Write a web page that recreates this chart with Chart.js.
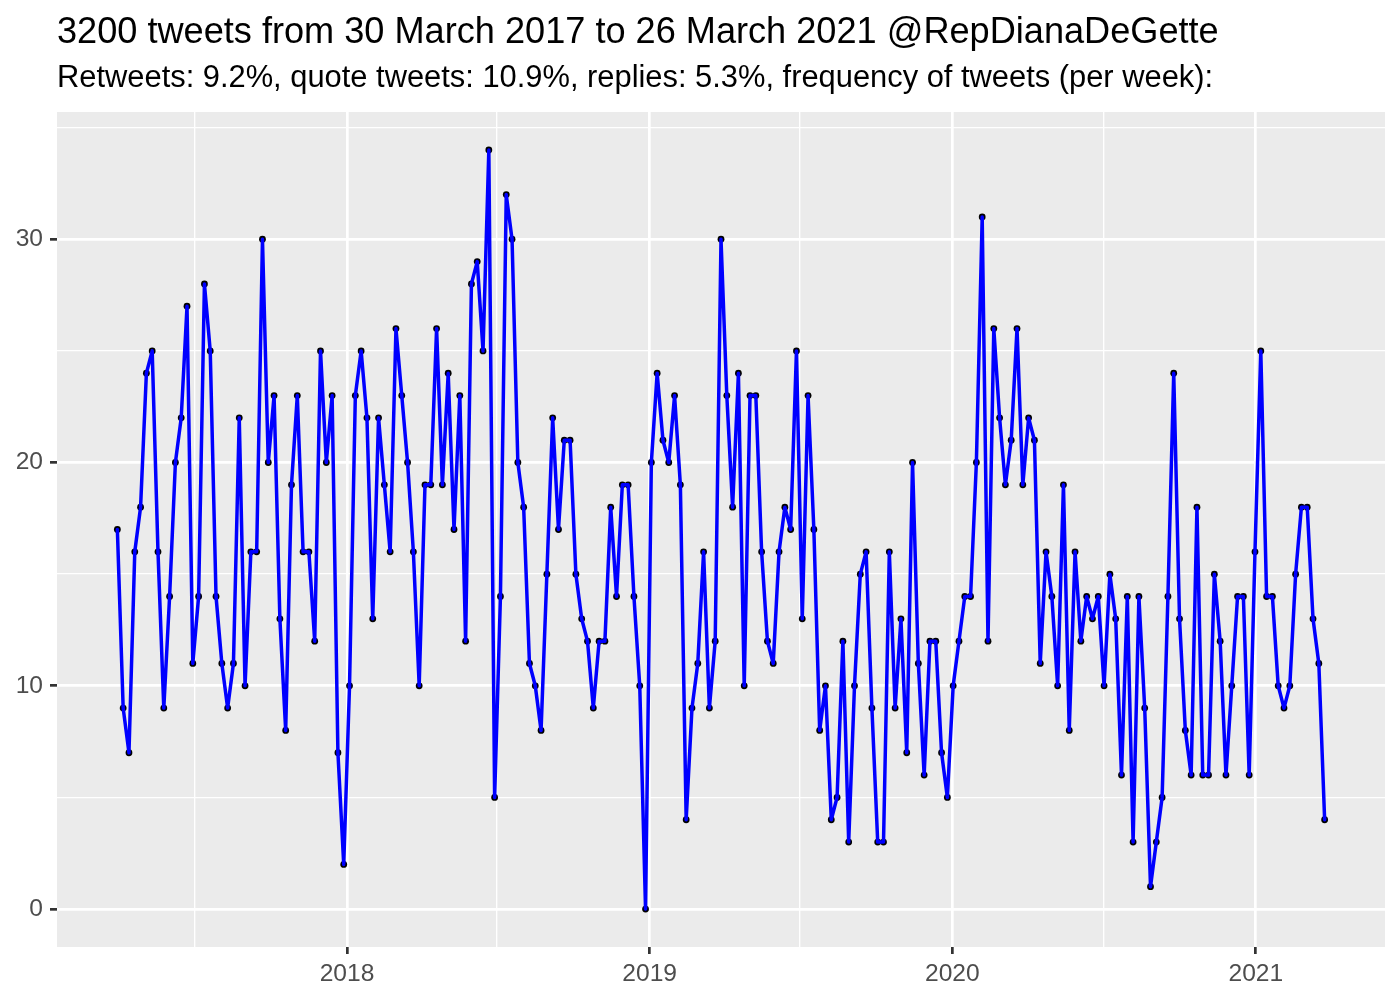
<!DOCTYPE html>
<html><head><meta charset="utf-8">
<script src="https://cdn.jsdelivr.net/npm/chart.js@4.4.1/dist/chart.umd.min.js"></script>
<style>html,body{margin:0;padding:0;background:#fff;} #wrap{width:1400px;height:1000px;}</style>
</head><body><div id="wrap"><canvas id="c" width="1400" height="1000"></canvas></div>
<script>
const titleText = '3200 tweets from 30 March 2017 to 26 March 2021 @RepDianaDeGette';
const subtitleText = 'Retweets: 9.2%, quote tweets: 10.9%, replies: 5.3%, frequency of tweets (per week):';
const startDate = '2017-03-30';
const weekStepDays = 7;
const tweetsPerWeek = [
  17,9,7,16,18,24,25,16,9,14,
  20,22,27,11,14,28,25,14,11,9,
  11,22,10,16,16,30,20,23,13,8,
  19,23,16,16,12,25,20,23,7,2,
  10,23,25,22,13,22,19,16,26,23,
  20,16,10,19,19,26,19,24,17,23,
  12,28,29,25,34,5,14,32,30,20,
  18,11,10,8,15,22,17,21,21,15,
  13,12,9,12,12,18,14,19,19,14,
  10,0,20,24,21,20,23,19,4,9,
  11,16,9,12,30,23,18,24,10,23,
  23,16,12,11,16,18,17,25,13,23,
  17,8,10,4,5,12,3,10,15,16,
  9,3,3,16,9,13,7,20,11,6,
  12,12,7,5,10,12,14,14,20,31,
  12,26,22,19,21,26,19,22,21,11,
  16,14,10,19,8,16,12,14,13,14,
  10,15,13,6,14,3,14,9,1,3,
  5,14,24,13,8,6,18,6,6,15,
  12,6,10,14,14,6,16,25,14,14,
  10,9,10,15,18,18,13,11,4
];
const xMajorDates = ['2018-01-01','2019-01-01','2020-01-01','2021-01-01'];
const xMajorLabels = ['2018','2019','2020','2021'];
const xMinorDates = ['2017-07-01','2018-07-01','2019-07-01','2020-07-01'];
const yMajorTicks = [0,10,20,30];
const yMinorTicks = [5,15,25,35];

const DAY = 86400000;
const origin = Date.UTC(2018,0,1);
function dayNum(s){ const p = s.split('-').map(Number); return (Date.UTC(p[0],p[1]-1,p[2]) - origin)/DAY; }
const start = dayNum(startDate);
const pts = tweetsPerWeek.map((v,i)=>({x: start + i*weekStepDays, y: v}));
const xMajor = xMajorDates.map(dayNum);
const xMinor = xMinorDates.map(dayNum);
const xFirst = pts[0].x, xLast = pts[pts.length-1].x;
const xPad = (xLast - xFirst)*0.05;
const yMaxV = Math.max(...tweetsPerWeek), yMinV = Math.min(...tweetsPerWeek);
const yPad = (yMaxV - yMinV)*0.05;

const FONT = '"Liberation Sans", Arial, Helvetica, sans-serif';
const MAJW = 2.7, MINW = 1.35;

const bgPlugin = {
  id:'bg',
  beforeDraw(chart){
    const {ctx, chartArea:a} = chart;
    ctx.save();
    ctx.fillStyle = '#ffffff';
    ctx.fillRect(0,0,chart.width,chart.height);
    ctx.fillStyle = '#EBEBEB';
    ctx.fillRect(a.left, a.top, a.right-a.left, a.bottom-a.top);
    ctx.restore();
  },
  afterDraw(chart){
    const {ctx} = chart;
    ctx.save();
    ctx.fillStyle = '#000000';
    ctx.textBaseline = 'alphabetic';
    ctx.textAlign = 'left';
    ctx.font = '36.15px ' + FONT;
    ctx.fillText(titleText, 57, 43);
    ctx.font = '30.86px ' + FONT;
    ctx.fillText(subtitleText, 57, 87);
    ctx.restore();
  }
};

new Chart(document.getElementById('c'), {
  data: {
    datasets: [
      { type:'line', data: pts, borderColor:'#0000FF', borderWidth:3.5, borderJoinStyle:'round', borderCapStyle:'round', pointRadius:0, tension:0, fill:false, order:1 },
      { type:'scatter', data: pts, pointRadius:3.4, pointBackgroundColor:'#000000', pointBorderWidth:0, borderColor:'#000000', order:2 }
    ]
  },
  options: {
    responsive:false, animation:false, devicePixelRatio:1,
    layout:{ padding:{ top:112, left:0, right:15, bottom:0 } },
    plugins:{ legend:{display:false}, tooltip:{enabled:false}, title:{display:false} },
    scales:{
      x:{
        type:'linear', min: xFirst - xPad, max: xLast + xPad,
        afterBuildTicks(s){ s.ticks = [...xMinor.map(v=>({value:v})), ...xMajor.map(v=>({value:v}))].sort((a,b)=>a.value-b.value); },
        afterFit(s){ s.height = 53; },
        ticks:{ autoSkip:false, maxRotation:0, minRotation:0, padding:5, color:'#4D4D4D', font:{size:24.6, family:FONT},
          callback(v){ const i = xMajor.indexOf(v); return i>=0 ? xMajorLabels[i] : ''; } },
        grid:{ color:'#FFFFFF', lineWidth(c){ return xMajor.includes(c.tick && c.tick.value) ? MAJW : MINW; },
          tickColor(c){ return xMajor.includes(c.tick && c.tick.value) ? '#333333' : 'rgba(0,0,0,0)'; },
          tickWidth: MAJW, tickLength:7, drawTicks:true },
        border:{ display:false }
      },
      y:{
        type:'linear', min: yMinV - yPad, max: yMaxV + yPad,
        afterBuildTicks(s){ s.ticks = [...yMajorTicks, ...yMinorTicks].sort((a,b)=>a-b).map(v=>({value:v})); },
        afterFit(s){ s.width = 57; },
        ticks:{ autoSkip:false, padding:7, color:'#4D4D4D', font:{size:24.6, family:FONT},
          callback(v){ return yMajorTicks.includes(v) ? String(v) : ''; } },
        grid:{ color:'#FFFFFF', lineWidth(c){ return yMajorTicks.includes(c.tick && c.tick.value) ? MAJW : MINW; },
          tickColor(c){ return yMajorTicks.includes(c.tick && c.tick.value) ? '#333333' : 'rgba(0,0,0,0)'; },
          tickWidth: MAJW, tickLength:7, drawTicks:true },
        border:{ display:false }
      }
    }
  },
  plugins:[bgPlugin]
});
</script></body></html>
